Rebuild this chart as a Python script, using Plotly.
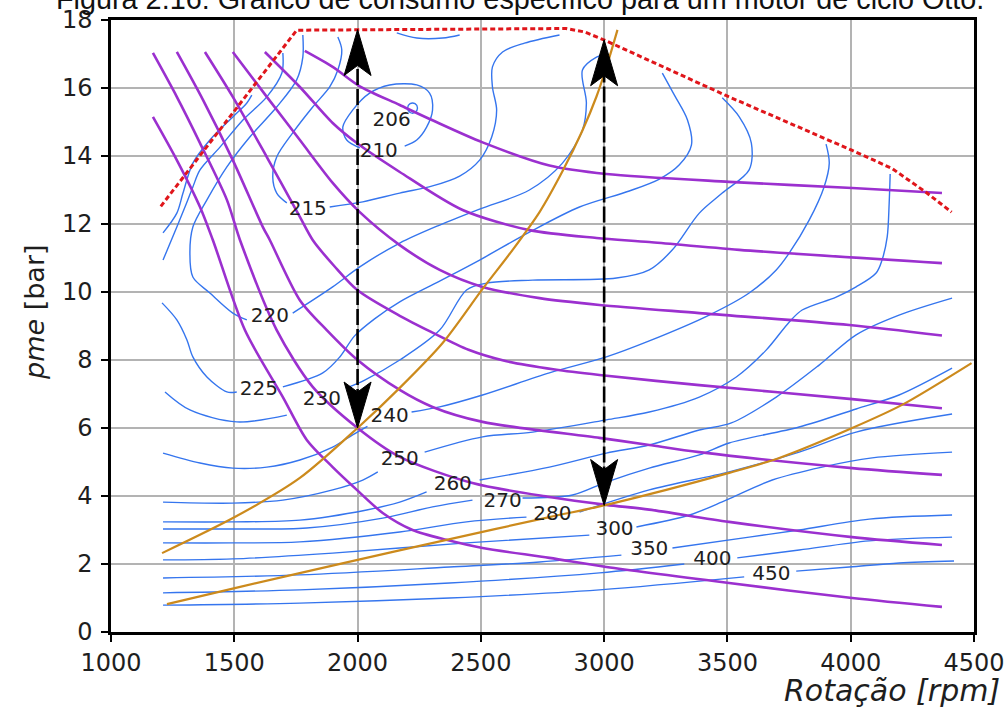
import plotly.graph_objects as go

# ---------------- data ----------------
X_RANGE = [1000, 4500]
Y_RANGE = [0, 18]
X_TICKS = [1000, 1500, 2000, 2500, 3000, 3500, 4000, 4500]
Y_TICKS = [0, 2, 4, 6, 8, 10, 12, 14, 16, 18]

TITLE = "Figura 2.16: Gráfico de consumo específico para um motor de ciclo Otto."
X_TITLE = "Rotação [rpm]"
Y_TITLE_ITALIC = "pme"
Y_TITLE_UNIT = "[bar]"

# full-load curve (red dashed)
full_load_rpm = [1202, 1753, 2846, 2920, 3004, 3494, 4004, 4166, 4304, 4409]
full_load_pme = [12.52, 17.70, 17.75, 17.65, 17.40, 15.78, 14.17, 13.64, 12.94, 12.35]

# constant-power-like curves (purple)
pot1_rpm = [1170, 1267, 1361, 1413, 1543, 1697, 1794, 1899, 1997, 2102, 2223, 2360, 2507, 2778, 3009, 3507, 4006, 4370]
pot1_pme = [15.15, 13.88, 12.50, 11.53, 8.88, 6.91, 5.65, 4.85, 4.18, 3.50, 3.00, 2.71, 2.47, 2.18, 1.91, 1.44, 1.00, 0.74]
pot2_rpm = [1170, 1267, 1361, 1470, 1523, 1672, 1818, 2000, 2171, 2466, 2778, 3009, 3183, 3507, 4006, 4370]
pot2_pme = [17.03, 15.74, 14.38, 12.71, 11.53, 8.88, 7.21, 6.00, 5.15, 4.38, 3.97, 3.74, 3.60, 3.24, 2.79, 2.56]
pot3_rpm = [1267, 1373, 1494, 1616, 1644, 1766, 1875, 2000, 2171, 2304, 2507, 2981, 3183, 3386, 4006, 4370]
pot3_pme = [17.06, 15.65, 13.88, 11.91, 11.53, 9.76, 8.88, 8.00, 7.12, 6.62, 6.18, 5.71, 5.50, 5.29, 4.82, 4.62]
pot4_rpm = [1381, 1494, 1632, 1766, 1818, 1907, 2000, 2171, 2300, 2450, 2600, 2800, 2981, 3386, 4006, 4370]
pot4_pme = [17.06, 15.74, 13.97, 12.21, 11.53, 10.75, 10.05, 9.30, 8.82, 8.30, 7.97, 7.72, 7.56, 7.26, 6.85, 6.58]
pot5_rpm = [1494, 1632, 1766, 1899, 2009, 2171, 2333, 2507, 2738, 2981, 3386, 3994, 4370]
pot5_pme = [17.06, 15.74, 14.47, 13.21, 12.35, 11.38, 10.65, 10.15, 9.82, 9.62, 9.38, 9.03, 8.72]
pot6_rpm = [1624, 1766, 1899, 1997, 2171, 2426, 2697, 2969, 3183, 3548, 4370]
pot6_pme = [17.06, 16.03, 14.97, 14.38, 13.53, 12.41, 11.82, 11.59, 11.47, 11.24, 10.85]
pot7_rpm = [1786, 1899, 2009, 2171, 2304, 2507, 2778, 3009, 3507, 4006, 4370]
pot7_pme = [17.09, 16.62, 16.05, 15.50, 15.05, 14.40, 13.72, 13.47, 13.24, 13.06, 12.91]

# operating curves (orange)
op1_rpm = [1207, 1502, 1766, 2000, 2171, 2345, 2507, 2629, 2738, 2831, 2912, 2969, 3015, 3054]
op1_pme = [2.32, 3.38, 4.53, 6.00, 7.18, 8.50, 10.09, 11.24, 12.35, 13.55, 14.75, 15.75, 16.75, 17.71]
op2_rpm = [1227, 1502, 2000, 2361, 2778, 3009, 3507, 3710, 4006, 4208, 4490]
op2_pme = [0.82, 1.29, 2.12, 2.71, 3.38, 3.74, 4.68, 5.12, 6.00, 6.68, 7.91]

# vertical double arrows (black, dashed)
arrow_rpm = [2000, 3000]
arrow_low_pme = [6.00, 3.72]
arrow_high_pme = [17.72, 17.42]

# specific-consumption iso-lines (blue) [g/kWh], pieces split at labels
c206_rpm = [2243, 2233, 2213, 2203, 2213, 2233, 2243]
c206_pme = [15.41, 15.54, 15.54, 15.41, 15.28, 15.28, 15.41]
c210a_rpm = [2191, 2240, 2280, 2304, 2292, 2240, 2130, 2049, 1980, 1940, 1956, 2009]
c210a_pme = [14.29, 14.47, 14.85, 15.35, 15.85, 16.09, 16.09, 15.85, 15.35, 14.85, 14.47, 14.24]
c210b_rpm = [2159, 2240, 2345, 2414]
c210b_pme = [17.62, 17.47, 17.47, 17.56]
c215a_rpm = [1920, 1936, 1920, 1887, 1818, 1737, 1672, 1656, 1672, 1713]
c215a_pme = [17.50, 17.12, 16.53, 16.03, 15.44, 14.68, 13.97, 13.38, 12.91, 12.62]
c215b_rpm = [1887, 2021, 2171, 2304, 2414, 2495, 2544, 2564, 2547, 2547, 2588, 2677, 2819]
c215b_pme = [12.50, 12.65, 12.91, 13.12, 13.41, 13.88, 14.56, 15.35, 16.03, 16.62, 17.06, 17.32, 17.56]
c220a_rpm = [1778, 1778, 1753, 1672, 1563, 1470, 1389, 1332, 1320, 1332, 1401, 1494, 1551]
c220a_pme = [17.56, 16.91, 16.24, 15.44, 14.56, 13.68, 12.71, 11.91, 11.15, 10.44, 9.97, 9.38, 9.18]
c220b_rpm = [1737, 1899, 2009, 2171, 2333, 2495, 2697, 2831, 2912, 2928, 2912, 2969, 2997]
c220b_pme = [9.38, 10.15, 10.74, 11.44, 11.97, 12.44, 13.00, 13.79, 14.76, 15.56, 16.53, 16.91, 16.97]
c225a_rpm = [1697, 1693, 1632, 1535, 1442, 1361, 1332, 1300, 1267, 1211]
c225a_pme = [17.03, 16.44, 15.74, 15.06, 14.26, 13.59, 13.09, 12.50, 11.91, 10.94]
c225b_rpm = [1207, 1267, 1308, 1332, 1389, 1470, 1510]
c225b_pme = [9.68, 9.18, 8.59, 8.09, 7.50, 7.06, 7.06]
c225c_rpm = [1697, 1859, 1928, 1988, 2069, 2171, 2333, 2495, 2697, 2900, 3102, 3224, 3305, 3354, 3338, 3285, 3236]
c225c_pme = [7.21, 7.62, 8.09, 8.71, 9.21, 9.71, 10.32, 10.94, 11.76, 12.50, 12.97, 13.32, 13.74, 14.32, 15.06, 15.79, 16.44]
c230a_rpm = [1571, 1551, 1494, 1401, 1332, 1292, 1267, 1211]
c230a_pme = [15.79, 15.56, 15.15, 14.47, 13.79, 12.91, 12.32, 11.74]
c230b_rpm = [1219, 1320, 1510, 1713]
c230b_pme = [7.06, 6.53, 6.18, 6.38]
c230c_rpm = [1956, 2029, 2171, 2333, 2442, 2523, 2710, 3050, 3183, 3277, 3386, 3479, 3588, 3597, 3548, 3479]
c230c_pme = [7.18, 7.41, 8.00, 8.88, 10.06, 10.26, 10.35, 10.41, 10.65, 11.24, 12.32, 12.91, 13.59, 14.38, 15.15, 15.71]
c240a_rpm = [1211, 1361, 1494, 1632, 1766, 1899, 1980, 2040]
c240a_pme = [5.26, 4.97, 4.82, 4.85, 5.06, 5.44, 5.80, 6.05]
c240b_rpm = [2219, 2333, 2507, 2778, 3009, 3183, 3426, 3588, 3698, 3751, 3832, 3892, 3913, 3900]
c240b_pme = [6.47, 6.62, 6.97, 7.62, 8.09, 8.56, 9.32, 9.97, 10.65, 11.15, 12.12, 13.09, 13.79, 14.35]
c250a_rpm = [1211, 1494, 1697, 1899, 2021, 2082]
c250a_pme = [3.82, 3.79, 3.88, 4.18, 4.47, 4.71]
c250b_rpm = [2272, 2507, 2710, 3009, 3183, 3386, 3536, 3657, 3751, 3803, 3941, 4022, 4103, 4127, 4148, 4156, 4160]
c250b_pme = [5.29, 5.74, 5.88, 6.24, 6.47, 6.91, 7.50, 8.29, 9.12, 9.47, 9.85, 10.15, 10.56, 10.94, 11.62, 12.62, 13.47]
c260a_rpm = [1211, 1494, 1766, 2037, 2171, 2280]
c260a_pme = [3.24, 3.24, 3.29, 3.59, 3.82, 4.12]
c260b_rpm = [2495, 2778, 3009, 3183, 3386, 3516, 3698, 3872, 4022, 4196, 4411]
c260b_pme = [4.47, 4.85, 5.26, 5.50, 5.94, 6.15, 6.91, 7.85, 8.74, 9.32, 9.82]
c270a_rpm = [1211, 1494, 1794, 2102, 2304, 2466]
c270a_pme = [3.03, 3.03, 3.06, 3.35, 3.68, 3.88]
c270b_rpm = [2669, 2872, 3009, 3183, 3386, 3507, 3791, 4022, 4196, 4411]
c270b_pme = [3.94, 4.03, 4.41, 4.82, 5.21, 5.56, 6.03, 6.56, 6.97, 7.76]
c280a_rpm = [1211, 1494, 1766, 2171, 2442, 2685]
c280a_pme = [2.62, 2.62, 2.65, 2.94, 3.24, 3.38]
c280b_rpm = [2900, 3183, 3507, 3791, 4022, 4411]
c280b_pme = [3.53, 4.18, 4.71, 5.29, 5.88, 6.41]
c300a_rpm = [1211, 1494, 1899, 2442, 2940]
c300a_pme = [2.12, 2.15, 2.32, 2.62, 2.85]
c300b_rpm = [3131, 3346, 3495, 3682, 3884, 4087, 4411]
c300b_pme = [3.09, 3.44, 3.88, 4.47, 4.85, 5.12, 5.29]
c350a_rpm = [1211, 1766, 2373, 2738, 3070]
c350a_pme = [1.59, 1.68, 1.91, 2.06, 2.26]
c350b_rpm = [3277, 3588, 3791, 4075, 4411]
c350b_pme = [2.47, 2.79, 3.00, 3.32, 3.44]
c400a_rpm = [1211, 1766, 2373, 2981, 3325]
c400a_pme = [1.15, 1.24, 1.44, 1.74, 2.00]
c400b_rpm = [3540, 3791, 4075, 4411]
c400b_pme = [2.18, 2.41, 2.68, 2.79]
c450a_rpm = [1211, 1766, 2373, 2981, 3568]
c450a_pme = [0.79, 0.85, 1.00, 1.24, 1.62]
c450b_rpm = [3779, 3994, 4196, 4419]
c450b_pme = [1.79, 1.91, 2.03, 2.09]

# contour labels
label_text = ["206", "210", "215", "220", "225", "230", "240", "250", "260", "270", "280", "300", "350", "400", "450"]
label_rpm = [2138, 2086, 1798, 1644, 1600, 1855, 2130, 2171, 2386, 2588, 2790, 3042, 3183, 3439, 3678]
label_pme = [15.03, 14.12, 12.41, 9.26, 7.12, 6.82, 6.32, 5.06, 4.32, 3.82, 3.44, 3.00, 2.41, 2.12, 1.68]

# ---------------- style ----------------
W, H = 1008, 707
ML, MR, MT, MB = 111, 34, 20, 75
BLUE = "#3575ee"
PURPLE = "#9b30cf"
ORANGE = "#cc8a1c"
RED = "#e0161b"
GRID = "#b3b3b3"
TXT = "#1e1e1e"

contour_pieces = [
    (c206_rpm, c206_pme), (c210a_rpm, c210a_pme), (c210b_rpm, c210b_pme),
    (c215a_rpm, c215a_pme), (c215b_rpm, c215b_pme),
    (c220a_rpm, c220a_pme), (c220b_rpm, c220b_pme),
    (c225a_rpm, c225a_pme), (c225b_rpm, c225b_pme), (c225c_rpm, c225c_pme),
    (c230a_rpm, c230a_pme), (c230b_rpm, c230b_pme), (c230c_rpm, c230c_pme),
    (c240a_rpm, c240a_pme), (c240b_rpm, c240b_pme),
    (c250a_rpm, c250a_pme), (c250b_rpm, c250b_pme),
    (c260a_rpm, c260a_pme), (c260b_rpm, c260b_pme),
    (c270a_rpm, c270a_pme), (c270b_rpm, c270b_pme),
    (c280a_rpm, c280a_pme), (c280b_rpm, c280b_pme),
    (c300a_rpm, c300a_pme), (c300b_rpm, c300b_pme),
    (c350a_rpm, c350a_pme), (c350b_rpm, c350b_pme),
    (c400a_rpm, c400a_pme), (c400b_rpm, c400b_pme),
    (c450a_rpm, c450a_pme), (c450b_rpm, c450b_pme),
]
power_curves = [(pot1_rpm, pot1_pme), (pot2_rpm, pot2_pme), (pot3_rpm, pot3_pme),
                (pot4_rpm, pot4_pme), (pot5_rpm, pot5_pme), (pot6_rpm, pot6_pme),
                (pot7_rpm, pot7_pme)]
op_curves = [(op1_rpm, op1_pme), (op2_rpm, op2_pme)]

fig = go.Figure()

for xs, ys in contour_pieces:
    fig.add_trace(go.Scatter(x=xs, y=ys, mode="lines",
                             line=dict(color=BLUE, width=1.4, shape="spline", smoothing=0.9),
                             hoverinfo="skip", showlegend=False))

for xs, ys in power_curves:
    fig.add_trace(go.Scatter(x=xs, y=ys, mode="lines",
                             line=dict(color=PURPLE, width=2.6, shape="spline", smoothing=0.8),
                             hoverinfo="skip", showlegend=False))

for xs, ys in op_curves:
    fig.add_trace(go.Scatter(x=xs, y=ys, mode="lines",
                             line=dict(color=ORANGE, width=2.2, shape="spline", smoothing=0.8),
                             hoverinfo="skip", showlegend=False))

fig.add_trace(go.Scatter(x=full_load_rpm, y=full_load_pme, mode="lines",
                         line=dict(color=RED, width=3, dash="5px,3px"),
                         hoverinfo="skip", showlegend=False))

# arrows: dashed shaft + filled heads (head size given in pixels, converted via axis scale)
plot_w = W - ML - MR
plot_h = H - MT - MB
rpm_per_px = (X_RANGE[1] - X_RANGE[0]) / plot_w
bar_per_px = (Y_RANGE[1] - Y_RANGE[0]) / plot_h
HEAD_LEN, HEAD_HALF_W, HEAD_NOTCH = 46, 13.5, 10


def head(x, tip, d):
    L = HEAD_LEN * bar_per_px * d
    n = HEAD_NOTCH * bar_per_px * d
    hw = HEAD_HALF_W * rpm_per_px
    return ([x, x + hw, x, x - hw, x], [tip, tip - L, tip - L + n, tip - L, tip])


for x, lo, hi in zip(arrow_rpm, arrow_low_pme, arrow_high_pme):
    fig.add_trace(go.Scatter(x=[x, x], y=[lo + HEAD_LEN * bar_per_px * 0.5, hi - HEAD_LEN * bar_per_px * 0.5],
                             mode="lines", line=dict(color="black", width=2.6, dash="16px,4px"),
                             hoverinfo="skip", showlegend=False))
    for tip, d in ((hi, 1), (lo, -1)):
        hx, hy = head(x, tip, d)
        fig.add_trace(go.Scatter(x=hx, y=hy, mode="lines", fill="toself", fillcolor="black",
                                 line=dict(color="black", width=1), hoverinfo="skip", showlegend=False))

fig.add_trace(go.Scatter(x=label_rpm, y=label_pme, mode="text", text=label_text,
                         textfont=dict(family="DejaVu Sans", size=20, color=TXT),
                         hoverinfo="skip", showlegend=False))

axis_common = dict(showline=True, linecolor="black", linewidth=2.5, mirror=True,
                   showgrid=True, gridcolor=GRID, gridwidth=1.6, zeroline=False,
                   ticks="outside", ticklen=7, tickwidth=2, tickcolor="black",
                   automargin=False,
                   tickfont=dict(family="DejaVu Sans", size=24, color=TXT))

fig.update_layout(
    width=W, height=H,
    margin=dict(l=ML, r=MR, t=MT, b=MB, autoexpand=False),
    paper_bgcolor="white", plot_bgcolor="white",
    xaxis=dict(range=X_RANGE, tickvals=X_TICKS, ticktext=[str(v) for v in X_TICKS], **axis_common),
    yaxis=dict(range=Y_RANGE, tickvals=Y_TICKS, ticktext=[str(v) for v in Y_TICKS],
               ticklabelstandoff=4, **axis_common),
    annotations=[
        dict(text=TITLE, xref="paper", yref="paper", x=0.4745, y=1.0343,
             xanchor="center", yanchor="middle", showarrow=False,
             font=dict(family="Liberation Sans", size=28.8, color="#111")),
        dict(text="<i>" + X_TITLE + "</i>", xref="paper", yref="paper", x=1.032, y=-0.0948,
             xanchor="right", yanchor="middle", showarrow=False,
             font=dict(family="DejaVu Sans", size=30, color=TXT)),
        dict(text="<i>" + Y_TITLE_ITALIC + "</i> " + Y_TITLE_UNIT, xref="paper", yref="paper",
             x=-0.088, y=0.523, xanchor="center", yanchor="middle", textangle=-90, showarrow=False,
             font=dict(family="DejaVu Sans", size=27, color=TXT)),
    ],
)

# remove the browser's default 8px page margin so the figure sits at the window origin
fig.write_html("out.html", config={"displayModeBar": False},
               post_script="document.body.style.margin='0';")
